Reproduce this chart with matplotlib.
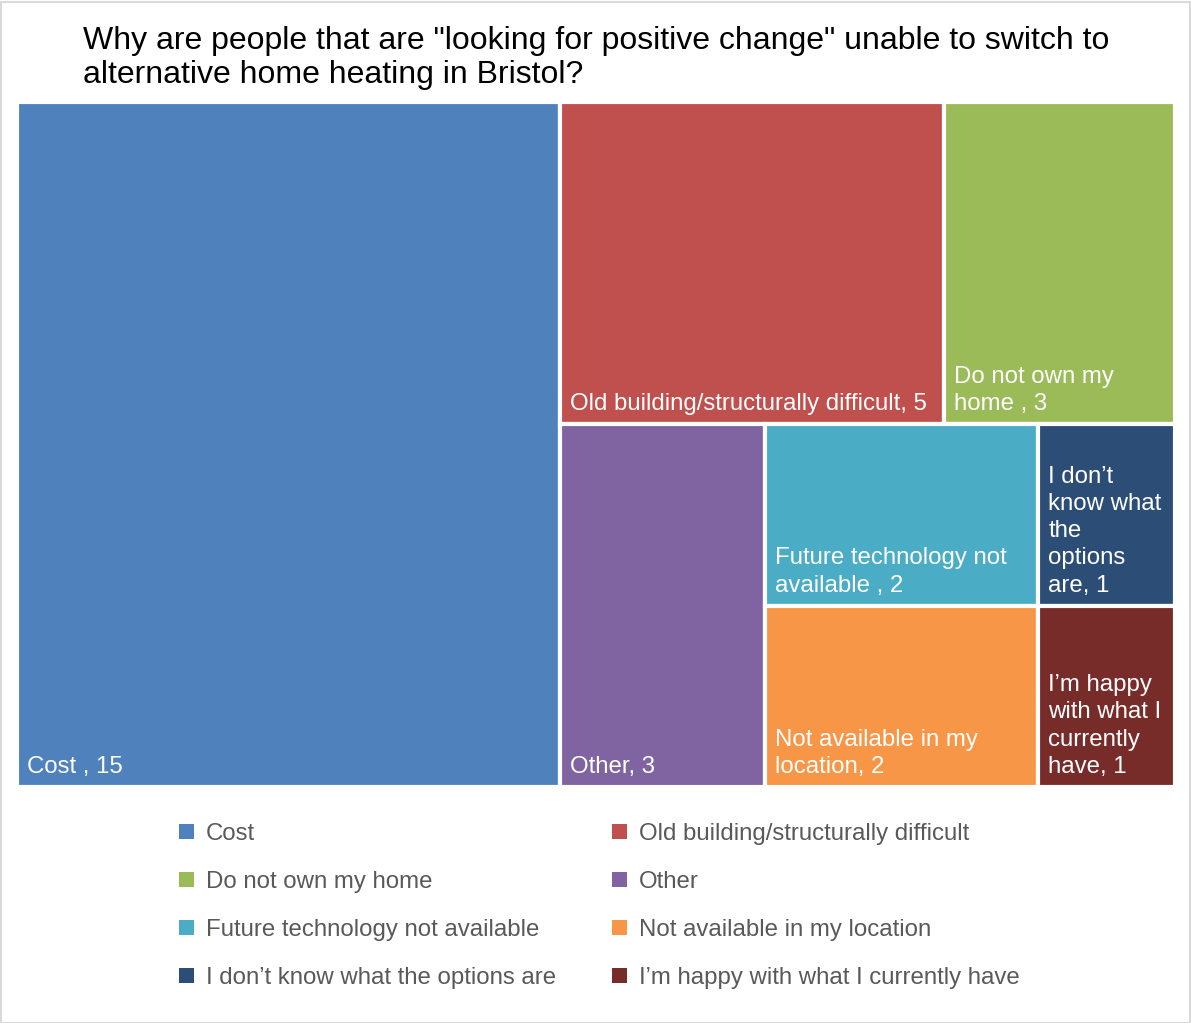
import matplotlib
matplotlib.use("Agg")
import matplotlib.pyplot as plt
from matplotlib.patches import Rectangle

plt.rcParams['font.family'] = ['Liberation Sans', 'DejaVu Sans']

title = 'Why are people that are "looking for positive change" unable to switch to\nalternative home heating in Bristol?'
categories = ["Cost", "Old building/structurally difficult", "Do not own my home", "Other",
              "Future technology not available", "Not available in my location",
              "I don\u2019t know what the options are", "I\u2019m happy with what I currently have"]
values = [15, 5, 3, 3, 2, 2, 1, 1]
tile_labels = ["Cost , 15", "Old building/structurally difficult, 5", "Do not own my\nhome , 3",
               "Other, 3", "Future technology not\navailable , 2", "Not available in my\nlocation, 2",
               "I don\u2019t\nknow what\nthe\noptions\nare, 1", "I\u2019m happy\nwith what I\ncurrently\nhave, 1"]
colors = ["#4F81BD", "#C0504D", "#9BBB59", "#8064A2", "#4BACC6", "#F79646", "#2C4D75", "#772C2A"]

FW, FH, DPI = 11.91, 10.23, 100
fig = plt.figure(figsize=(FW, FH), dpi=DPI)
fig.patch.set_facecolor("white")

# plot area in pixels
px0, py0, px1, py1 = 17, 102, 1175, 787
W, H = px1 - px0, py1 - py0
ax = fig.add_axes([px0 / 1191, 1 - py1 / 1023, W / 1191, H / 1023])
ax.set_xlim(0, W)
ax.set_ylim(H, 0)
ax.axis("off")


def worst(row, side):
    s = sum(row)
    thick = s / side
    return max(max(thick / (r / thick), (r / thick) / thick) for r in row)


def squarify(vals, x, y, w, h):
    total = sum(vals)
    areas = [v * w * h / total for v in vals]
    rects = []
    idx = 0
    while idx < len(areas):
        side = min(w, h)
        row = [areas[idx]]
        j = idx + 1
        while j < len(areas) and worst(row + [areas[j]], side) <= worst(row, side):
            row.append(areas[j])
            j += 1
        s = sum(row)
        if w >= h:  # column along height
            cw = s / h
            yy = y
            for a in row:
                rh = a / cw
                rects.append((x, yy, cw, rh))
                yy += rh
            x += cw
            w -= cw
        else:  # row along width
            rh = s / w
            xx = x
            for a in row:
                rw = a / rh
                rects.append((xx, y, rw, rh))
                xx += rw
            y += rh
            h -= rh
        idx = j
    return rects


rects = squarify(values, 0, 0, W, H)
for (x, y, w, h), c, lab in zip(rects, colors, tile_labels):
    ax.add_patch(Rectangle((x, y), w, h, facecolor=c, edgecolor="white", linewidth=3))
    ax.text(x + 10, y + h - 9, lab, color="white", fontsize=17.3, ha="left", va="bottom",
            linespacing=1.31)

fig.text(83 / 1191, 1 - 26 / 1023, title, fontsize=23, color="black", ha="left", va="top",
         linespacing=1.17)

# legend
order_cols = [[0, 2, 4, 6], [1, 3, 5, 7]]
col_x = [179, 612]
row_y = [832, 880, 928, 976]
for ci, col in enumerate(order_cols):
    for ri, k in enumerate(col):
        xm, ym = col_x[ci], row_y[ri]
        fig.patches.append(Rectangle((xm / 1191, 1 - (ym + 7) / 1023), 15 / 1191, 15 / 1023,
                                     transform=fig.transFigure, facecolor=colors[k],
                                     edgecolor="none"))
        fig.text((xm + 27) / 1191, 1 - (ym + 2) / 1023, categories[k], fontsize=17.3,
                 color="#595959", ha="left", va="center")

fig.patches.append(Rectangle((0.5 / 1191, 0.5 / 1023), 1189 / 1191, 1021 / 1023,
                             transform=fig.transFigure, facecolor="none", edgecolor="#D9D9D9",
                             linewidth=1.5))
fig.savefig("out.png", dpi=DPI)
